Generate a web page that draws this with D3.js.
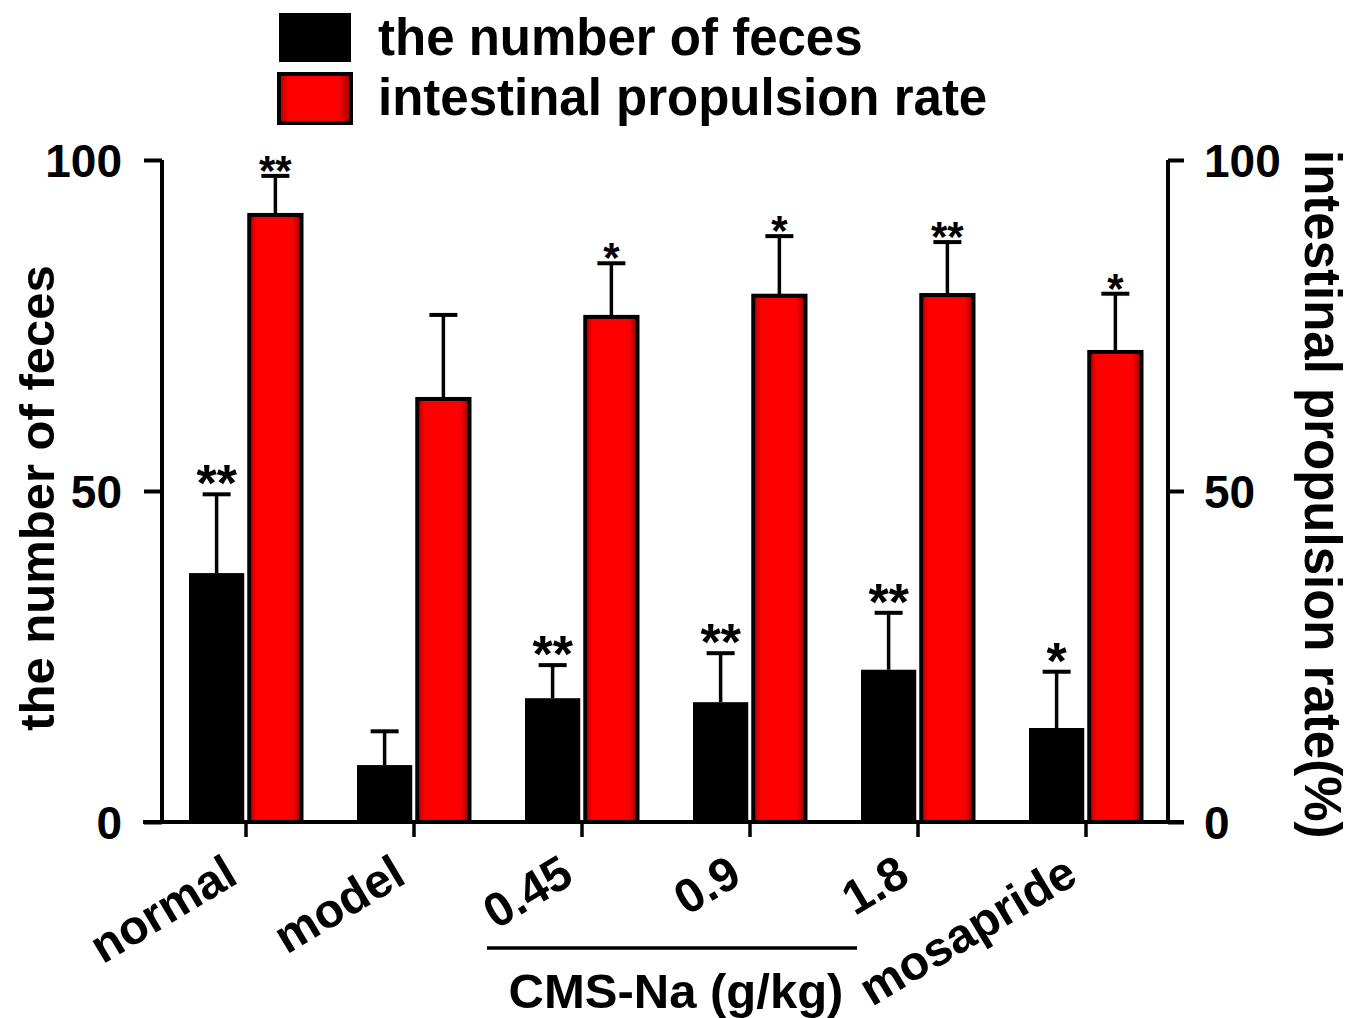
<!DOCTYPE html>
<html>
<head>
<meta charset="utf-8">
<script src="https://cdn.jsdelivr.net/npm/d3@7/dist/d3.min.js"></script>
<style>
  html, body { margin: 0; padding: 0; background: #fff; }
  svg { display: block; }
  text { font-family: "Liberation Sans", Arial, Helvetica, sans-serif; font-weight: bold; fill: #000; }
</style>
</head>
<body>
<script>
// ---- data ----
const categories = ["normal", "model", "0.45", "0.9", "1.8", "mosapride"];
const fecesMean  = [37.6, 8.6, 18.7, 18.1, 23.0, 14.2];
const fecesErr   = [11.9, 5.1, 5.0, 7.4, 8.6, 8.5];
const fecesSig   = ["**", "", "**", "**", "**", "*"];
const rateMean   = [91.7, 63.9, 76.3, 79.5, 79.6, 71.0];
const rateErr    = [5.9, 12.7, 8.1, 9.0, 8.0, 8.8];
const rateSig    = ["**", "", "*", "*", "**", "*"];
const yTicks     = [0, 50, 100];
const seriesNames = ["the number of feces", "intestinal propulsion rate"];
const groupLabel  = "CMS-Na (g/kg)";
const groupMembers = ["0.45", "0.9", "1.8"];

const W = 1361, H = 1018;
const svg = d3.select("body").append("svg").attr("width", W).attr("height", H);

const defs = svg.append("defs");
const grad = defs.append("linearGradient").attr("id", "redGrad").attr("x1", "0").attr("x2", "1").attr("y1", "0").attr("y2", "0");
[[0, "#b00000"], [0.14, "#ff0000"], [0.82, "#ff0000"], [1, "#9a0000"]].forEach(s =>
  grad.append("stop").attr("offset", s[0]).attr("stop-color", s[1]));

const x = d3.scaleBand().domain(categories).range([162, 1170]).padding(0);
const xi = d3.scaleBand().domain(["feces", "rate"]).range([-57, 57]).paddingInner(0.06);
const yL = d3.scaleLinear().domain([0, 100]).range([822, 160]);
const yR = d3.scaleLinear().domain([0, 100]).range([822, 160]);

const data = categories.map((c, i) => ({
  cat: c,
  bars: [
    {key: "feces", v: fecesMean[i], e: fecesErr[i], sig: fecesSig[i], y: yL},
    {key: "rate",  v: rateMean[i],  e: rateErr[i],  sig: rateSig[i],  y: yR}
  ]
}));

const groups = svg.append("g").selectAll("g").data(data).join("g")
  .attr("transform", d => `translate(${x(d.cat) + x.bandwidth() / 2},0)`);

// error bars
groups.selectAll("line.err").data(d => d.bars).join("line")
  .attr("x1", b => xi(b.key) + xi.bandwidth() / 2)
  .attr("x2", b => xi(b.key) + xi.bandwidth() / 2)
  .attr("y1", b => b.y(b.v))
  .attr("y2", b => b.y(b.v + b.e))
  .attr("stroke", "#000").attr("stroke-width", 3.5);
groups.selectAll("line.cap").data(d => d.bars).join("line")
  .attr("x1", b => xi(b.key) + xi.bandwidth() / 2 - 14)
  .attr("x2", b => xi(b.key) + xi.bandwidth() / 2 + 14)
  .attr("y1", b => b.y(b.v + b.e))
  .attr("y2", b => b.y(b.v + b.e))
  .attr("stroke", "#000").attr("stroke-width", 4);

// bars
groups.selectAll("rect").data(d => d.bars).join("rect")
  .attr("x", b => xi(b.key) + (b.key === "rate" ? 1.5 : 0))
  .attr("width", b => xi.bandwidth() - (b.key === "rate" ? 3 : 0))
  .attr("y", b => b.y(b.v))
  .attr("height", b => b.y(0) - b.y(b.v))
  .attr("fill", b => b.key === "rate" ? "url(#redGrad)" : "#000")
  .attr("stroke", "#000")
  .attr("stroke-width", b => b.key === "rate" ? 4 : 0);

// significance stars
groups.selectAll("text.sig").data(d => d.bars).join("text")
  .attr("class", "sig")
  .attr("x", b => xi(b.key) + xi.bandwidth() / 2)
  .attr("y", b => b.y(b.v + b.e) + (b.key === "rate" ? 9 : 7))
  .attr("text-anchor", "middle")
  .style("font-size", b => b.key === "rate" ? "42px" : "52px")
  .text(b => b.sig);

// axes
const axL = svg.append("g").attr("transform", "translate(162,0)")
  .call(d3.axisLeft(yL).tickValues(yTicks).tickSize(18).tickPadding(22).tickFormat(d3.format("d")));
const axR = svg.append("g").attr("transform", "translate(1168,0)")
  .call(d3.axisRight(yR).tickValues(yTicks).tickSize(16).tickPadding(20).tickFormat(d3.format("d")));
[axL, axR].forEach(a => {
  a.select(".domain").attr("stroke", "#000").attr("stroke-width", 4).attr("d", "M0,160V822");
  a.selectAll(".tick line").attr("stroke", "#000").attr("stroke-width", 4);
  a.selectAll(".tick text").style("font-size", "46px").style("font-family", "Liberation Sans, Arial, sans-serif")
    .style("font-weight", "bold").attr("dy", "0.35em");
});

// x axis (baseline)
const axB = svg.append("g").attr("transform", "translate(0,822)")
  .call(d3.axisBottom(x).tickSize(15).tickFormat(""));
axB.select(".domain").attr("stroke", "#000").attr("stroke-width", 4).attr("d", "M143,0H1184");
axB.selectAll(".tick line").attr("stroke", "#000").attr("stroke-width", 3.5);

// rotated category labels
svg.append("g").selectAll("text").data(categories).join("text")
  .attr("transform", d => `translate(${x(d) + x.bandwidth() / 2 - 6},882) rotate(-31)`)
  .attr("text-anchor", "end")
  .style("font-size", "48px")
  .text(d => d);

// CMS-Na bracket
const gx0 = x(groupMembers[0]) + x.bandwidth() / 2 - 95;
const gx1 = x(groupMembers[groupMembers.length - 1]) + x.bandwidth() / 2 - 61;
svg.append("line").attr("x1", gx0).attr("x2", gx1).attr("y1", 948).attr("y2", 948)
  .attr("stroke", "#000").attr("stroke-width", 3.5);
svg.append("text").attr("x", (gx0 + gx1) / 2 + 4).attr("y", 1008)
  .attr("text-anchor", "middle").style("font-size", "49px").text(groupLabel);

// axis titles
svg.append("text").attr("transform", "translate(54,498) rotate(-90)")
  .attr("text-anchor", "middle").style("font-size", "49px").text(seriesNames[0]);
svg.append("text").attr("transform", "translate(1305,150) rotate(90)")
  .attr("text-anchor", "start").style("font-size", "51px").text(seriesNames[1] + "(%)");

// legend
const legend = svg.append("g");
const legColors = ["#000", "url(#redGrad)"];
seriesNames.forEach((s, i) => {
  legend.append("rect").attr("x", 279).attr("y", 13 + i * 61).attr("width", 72).attr("height", 49)
    .attr("fill", legColors[i]).attr("stroke", "#000").attr("stroke-width", i === 1 ? 4 : 0);
  legend.append("text").attr("x", 378).attr("y", 55 + i * 60).style("font-size", "51px").text(s);
});
</script>
</body>
</html>
